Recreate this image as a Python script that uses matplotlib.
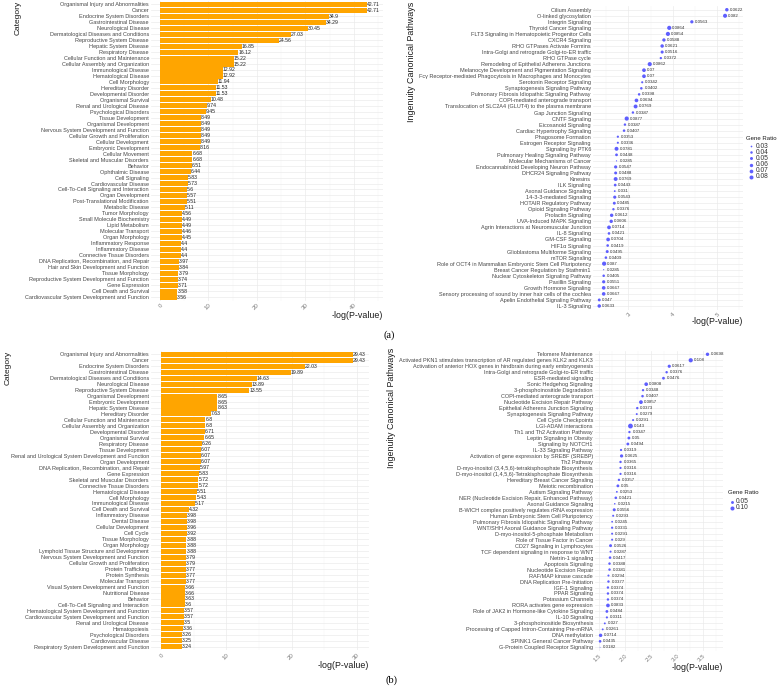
import numpy as np
import matplotlib
matplotlib.use("Agg")
import matplotlib.pyplot as plt

plt.rcParams['font.family'] = ['Liberation Sans', 'DejaVu Sans']

W, H = 777, 686

# ---------------- (a) ----------------
cat_a = [
    "Organismal Injury and Abnormalities", "Cancer", "Endocrine System Disorders",
    "Gastrointestinal Disease", "Neurological Disease", "Dermatological Diseases and Conditions",
    "Reproductive System Disease", "Hepatic System Disease", "Respiratory Disease",
    "Cellular Function and Maintenance", "Cellular Assembly and Organization",
    "Immunological Disease", "Hematological Disease", "Cell Morphology", "Hereditary Disorder",
    "Developmental Disorder", "Organismal Survival", "Renal and Urological Disease",
    "Psychological Disorders", "Tissue Development", "Organismal Development",
    "Nervous System Development and Function", "Cellular Growth and Proliferation",
    "Cellular Development", "Embryonic Development", "Cellular Movement",
    "Skeletal and Muscular Disorders", "Behavior", "Ophthalmic Disease", "Cell Signaling",
    "Cardiovascular Disease", "Cell-To-Cell Signaling and Interaction", "Organ Development",
    "Post-Translational Modification", "Metabolic Disease", "Tumor Morphology",
    "Small Molecule Biochemistry", "Lipid Metabolism", "Molecular Transport",
    "Organ Morphology", "Inflammatory Response", "Inflammatory Disease",
    "Connective Tissue Disorders", "DNA Replication, Recombination, and Repair",
    "Hair and Skin Development and Function", "Tissue Morphology",
    "Reproductive System Development and Function", "Gene Expression",
    "Cell Death and Survival", "Cardiovascular System Development and Function",
]
logp_cat_a = [
    42.71, 42.71, 34.9, 34.29, 30.45, 27.03, 24.56, 16.85, 16.12, 15.22,
    15.22, 12.92, 12.92, 11.94, 11.53, 11.53, 10.48, 9.74, 9.45, 8.49,
    8.49, 8.49, 8.49, 8.49, 8.16, 6.68, 6.68, 6.51, 6.44, 5.83,
    5.73, 5.6, 5.57, 5.51, 5.11, 4.56, 4.49, 4.49, 4.46, 4.45,
    4.4, 4.4, 4.4, 3.97, 3.84, 3.79, 3.74, 3.71, 3.58, 3.56,
]

path_a = [
    "Cilium Assembly", "O-linked glycosylation", "Integrin Signaling",
    "Thyroid Cancer Signaling", "FLT3 Signaling in Hematopoietic Progenitor Cells",
    "CXCR4 Signaling", "RHO GTPases Activate Formins",
    "Intra-Golgi and retrograde Golgi-to-ER traffic", "RHO GTPase cycle",
    "Remodeling of Epithelial Adherens Junctions",
    "Melanocyte Development and Pigmentation Signaling",
    "Fcγ Receptor-mediated Phagocytosis in Macrophages and Monocytes",
    "Serotonin Receptor Signaling", "Synaptogenesis Signaling Pathway",
    "Pulmonary Fibrosis Idiopathic Signaling Pathway", "COPI-mediated anterograde transport",
    "Translocation of SLC2A4 (GLUT4) to the plasma membrane", "Gap Junction Signaling",
    "CNTF Signaling", "Eicosanoid Signaling", "Cardiac Hypertrophy Signaling",
    "Phagosome Formation", "Estrogen Receptor Signaling", "Signaling by PTK6",
    "Pulmonary Healing Signaling Pathway", "Molecular Mechanisms of Cancer",
    "Endocannabinoid Developing Neuron Pathway", "DHCR24 Signaling Pathway", "Kinesins",
    "ILK Signaling", "Axonal Guidance Signaling", "14-3-3-mediated Signaling",
    "HOTAIR Regulatory Pathway", "Opioid Signaling Pathway", "Prolactin Signaling",
    "UVA-Induced MAPK Signaling", "Agrin Interactions at Neuromuscular Junction",
    "IL-8 Signaling", "GM-CSF Signaling", "HIF1α Signaling",
    "Glioblastoma Multiforme Signaling", "mTOR Signaling",
    "Role of OCT4 in Mammalian Embryonic Stem Cell Pluripotency",
    "Breast Cancer Regulation by Stathmin1", "Nuclear Cytoskeleton Signaling Pathway",
    "Paxillin Signaling", "Growth Hormone Signaling",
    "Sensory processing of sound by inner hair cells of the cochlea",
    "Apelin Endothelial Signaling Pathway", "IL-3 Signaling",
]
logp_path_a = [
    5.22, 5.18, 4.43, 3.92, 3.89, 3.80, 3.76, 3.76, 3.73, 3.48,
    3.35, 3.35, 3.31, 3.29, 3.24, 3.18, 3.16, 3.10, 2.96, 2.92,
    2.90, 2.76, 2.76, 2.73, 2.73, 2.73, 2.71, 2.71, 2.71, 2.70,
    2.69, 2.69, 2.68, 2.66, 2.62, 2.61, 2.56, 2.56, 2.54, 2.53,
    2.52, 2.49, 2.45, 2.44, 2.44, 2.44, 2.44, 2.44, 2.34, 2.34,
]
ratio_a = [
    0.0622, 0.082, 0.0563, 0.0864, 0.0854, 0.0588, 0.0621, 0.0516, 0.0372, 0.0862,
    0.07, 0.07, 0.0342, 0.0402, 0.0398, 0.0694, 0.0769, 0.0387, 0.0877, 0.0387,
    0.0407, 0.0353, 0.0336, 0.0781, 0.0448, 0.0285, 0.0547, 0.0488, 0.0769, 0.0443,
    0.031, 0.0543, 0.0485, 0.0376, 0.0612, 0.0606, 0.0714, 0.0421, 0.0704, 0.0419,
    0.0495, 0.0409, 0.087, 0.0285, 0.0405, 0.0551, 0.0667, 0.0667, 0.047, 0.0633,
]
legend_a = [0.03, 0.04, 0.05, 0.06, 0.07, 0.08]

# ---------------- (b) ----------------
cat_b = [
    "Organismal Injury and Abnormalities", "Cancer", "Endocrine System Disorders",
    "Gastrointestinal Disease", "Dermatological Diseases and Conditions",
    "Neurological Disease", "Reproductive System Disease", "Organismal Development",
    "Embryonic Development", "Hepatic System Disease", "Hereditary Disorder",
    "Cellular Function and Maintenance", "Cellular Assembly and Organization",
    "Developmental Disorder", "Organismal Survival", "Respiratory Disease",
    "Tissue Development", "Renal and Urological System Development and Function",
    "Organ Development", "DNA Replication, Recombination, and Repair", "Gene Expression",
    "Skeletal and Muscular Disorders", "Connective Tissue Disorders",
    "Hematological Disease", "Cell Morphology", "Immunological Disease",
    "Cell Death and Survival", "Inflammatory Disease", "Dental Disease",
    "Cellular Development", "Cell Cycle", "Tissue Morphology", "Organ Morphology",
    "Lymphoid Tissue Structure and Development", "Nervous System Development and Function",
    "Cellular Growth and Proliferation", "Protein Trafficking", "Protein Synthesis",
    "Molecular Transport", "Visual System Development and Function", "Nutritional Disease",
    "Behavior", "Cell-To-Cell Signaling and Interaction",
    "Hematological System Development and Function",
    "Cardiovascular System Development and Function", "Renal and Urological Disease",
    "Hematopoiesis", "Psychological Disorders", "Cardiovascular Disease",
    "Respiratory System Development and Function",
]
logp_cat_b = [
    29.43, 29.43, 22.03, 19.89, 14.63, 13.89, 13.55, 8.65, 8.65, 8.63,
    7.63, 6.8, 6.8, 6.71, 6.65, 6.26, 6.07, 6.07, 6.07, 5.97,
    5.83, 5.72, 5.72, 5.51, 5.43, 5.17, 4.32, 3.98, 3.98, 3.96,
    3.92, 3.88, 3.88, 3.88, 3.79, 3.79, 3.77, 3.77, 3.77, 3.66,
    3.66, 3.63, 3.6, 3.57, 3.57, 3.5, 3.36, 3.26, 3.25, 3.24,
]

path_b = [
    "Telomere Maintenance",
    "Activated PKN1 stimulates transcription of AR regulated genes KLK2 and KLK3",
    "Activation of anterior HOX genes in hindbrain during early embryogenesis",
    "Intra-Golgi and retrograde Golgi-to-ER traffic", "ESR-mediated signaling",
    "Sonic Hedgehog Signaling", "3-phosphoinositide Degradation",
    "COPI-mediated anterograde transport", "Nucleotide Excision Repair Pathway",
    "Epithelial Adherens Junction Signaling", "Synaptogenesis Signaling Pathway",
    "Cell Cycle Checkpoints", "LGI-ADAM interactions", "Th1 and Th2 Activation Pathway",
    "Leptin Signaling in Obesity", "Signaling by NOTCH1", "IL-33 Signaling Pathway",
    "Activation of gene expression by SREBF (SREBP)", "Th2 Pathway",
    "D-myo-inositol (3,4,5,6)-tetrakisphosphate Biosynthesis",
    "D-myo-inositol (1,4,5,6)-Tetrakisphosphate Biosynthesis",
    "Hereditary Breast Cancer Signaling", "Meiotic recombination", "Autism Signaling Pathway",
    "NER (Nucleotide Excision Repair, Enhanced Pathway)", "Axonal Guidance Signaling",
    "B-WICH complex positively regulates rRNA expression",
    "Human Embryonic Stem Cell Pluripotency",
    "Pulmonary Fibrosis Idiopathic Signaling Pathway",
    "WNT/SHH Axonal Guidance Signaling Pathway", "D-myo-inositol-5-phosphate Metabolism",
    "Role of Tissue Factor in Cancer", "CD27 Signaling in Lymphocytes",
    "TCF dependent signaling in response to WNT", "Netrin-1 signaling", "Apoptosis Signaling",
    "Nucleotide Excision Repair", "RAF/MAP kinase cascade", "DNA Replication Pre-Initiation",
    "IGF-1 Signaling", "PPAR Signaling", "Potassium Channels", "RORA activates gene expression",
    "Role of JAK2 in Hormone-like Cytokine Signaling", "IL-10 Signaling",
    "3-phosphoinositide Biosynthesis", "Processing of Capped Intron-Containing Pre-mRNA",
    "DNA methylation", "SPINK1 General Cancer Pathway", "G-Protein Coupled Receptor Signaling",
]
logp_path_b = [
    3.58, 3.26, 2.85, 2.80, 2.74, 2.41, 2.35, 2.34, 2.31, 2.24,
    2.23, 2.16, 2.11, 2.09, 2.08, 2.06, 1.93, 1.94, 1.92, 1.92,
    1.92, 1.89, 1.87, 1.85, 1.83, 1.81, 1.80, 1.78, 1.76, 1.76,
    1.76, 1.76, 1.73, 1.73, 1.72, 1.71, 1.71, 1.69, 1.69, 1.68,
    1.68, 1.68, 1.68, 1.66, 1.66, 1.62, 1.58, 1.54, 1.53, 1.53,
]
ratio_b = [
    0.0698, 0.108, 0.0617, 0.0376, 0.0476, 0.0808, 0.0348, 0.0407, 0.0857, 0.0373,
    0.0279, 0.0291, 0.143, 0.0347, 0.05, 0.0494, 0.0319, 0.0625, 0.0365, 0.0316,
    0.0316, 0.0357, 0.05, 0.0253, 0.0421, 0.0215, 0.0556, 0.0293, 0.0245, 0.0331,
    0.0291, 0.029, 0.0526, 0.0287, 0.0417, 0.0388, 0.0381, 0.0294, 0.0377, 0.0374,
    0.0374, 0.0374, 0.0833, 0.0484, 0.0311, 0.027, 0.0261, 0.0714, 0.0435, 0.0182,
]
legend_b = [0.05, 0.10]

GREY = '#474747'
ORANGE = '#FFA500'
DOT = '#4D4DFF'


def box(left, right, top, bottom):
    return [left / W, 1 - bottom / H, (right - left) / W, (bottom - top) / H]


def style(ax, labels, xlim, major, minor):
    n = len(labels)
    ax.set_xlim(*xlim)
    ax.set_ylim(n - 0.4, -0.6)
    ax.set_xticks(major)
    ax.set_xticks(minor, minor=True)
    ax.set_yticks(range(n))
    ax.set_yticklabels(labels, fontsize=3.95, color=GREY)
    ax.grid(True, which='major', color='#EBEBEB', lw=0.5)
    ax.grid(True, which='minor', axis='x', color='#F3F3F3', lw=0.3)
    ax.set_axisbelow(True)
    for s in ax.spines.values():
        s.set_visible(False)
    ax.tick_params(axis='both', which='both', length=0)
    ax.tick_params(axis='y', pad=1.5)
    ax.tick_params(axis='x', pad=1.5, labelsize=4.4, labelcolor='#7A7A7A')
    plt.setp(ax.get_xticklabels(), rotation=45, ha='right', rotation_mode='anchor')


def dot_size(v, vals, dmin, dmax):
    lo, hi = min(vals), max(vals)
    d = dmin + (dmax - dmin) * np.sqrt((np.asarray(v) - lo) / (hi - lo))
    return (d * 0.72) ** 2


fig = plt.figure(figsize=(W / 100, H / 100), dpi=100)

# bar panels
for vals, labels, rect, xlim, major, minor in [
    (logp_cat_a, cat_a, box(151, 383, 0.7, 300.6), (-1.86, 46.0),
     [0, 10, 20, 30, 40], [5, 15, 25, 35, 45]),
    (logp_cat_b, cat_b, box(151, 369, 350.7, 650.3), (-1.53, 31.85),
     [0, 10, 20, 30], [5, 15, 25]),
]:
    ax = fig.add_axes(rect)
    ypos = np.arange(len(labels))
    ax.barh(ypos, vals, height=0.85, color=ORANGE)
    for y, v in zip(ypos, vals):
        ax.text(v, y, f"{v:g}", fontsize=3.7, va='center', ha='left', color='#222222')
    style(ax, labels, xlim, major, minor)

# dot panels
for vals, ratios, labels, rect, xlim, major, minor, dr in [
    (logp_path_a, ratio_a, path_a, box(593, 743, 6.1, 309.6), (2.199, 5.585),
     [3, 4, 5], [2.5, 3.5, 4.5, 5.5], (1.2, 4.2)),
    (logp_path_b, ratio_b, path_b, box(595, 723, 350.7, 650.9), (1.433, 3.876),
     [1.5, 2.0, 2.5, 3.0, 3.5], [1.75, 2.25, 2.75, 3.25, 3.75], (0.9, 4.8)),
]:
    ax = fig.add_axes(rect)
    ypos = np.arange(len(labels))
    ax.scatter(vals, ypos, s=dot_size(ratios, ratios, *dr), color=DOT, alpha=0.9,
               linewidths=0, zorder=3)
    for y, v, r in zip(ypos, vals, ratios):
        ax.annotate(f"{r:g}", (v, y), xytext=(2.2, 0), textcoords='offset points',
                    fontsize=3.2, va='center', ha='left', color='#333333')
    style(ax, labels, xlim, major, minor)

# overlay in pixel coordinates for titles and legends
ov = fig.add_axes([0, 0, 1, 1])
ov.set_xlim(0, W)
ov.set_ylim(H, 0)
ov.axis('off')

title_kw = dict(fontsize=6.4, color='#1A1A1A')
ov.text(18, 18, "Category", rotation=90, ha='center', va='center', fontsize=6.0, color='#1A1A1A')
ov.text(412, 62, "Ingenuity Canonical Pathways", rotation=90, ha='center', va='center', **title_kw)
ov.text(383, 315, "-log(P-value)", ha='right', va='center', **title_kw)
ov.text(743, 322, "-log(P-value)", ha='right', va='center', **title_kw)
ov.text(8, 368, "Category", rotation=90, ha='center', va='center', fontsize=6.0, color='#1A1A1A')
ov.text(391, 408, "Ingenuity Canonical Pathways", rotation=90, ha='center', va='center', **title_kw)
ov.text(369, 665, "-log(P-value)", ha='right', va='center', **title_kw)
ov.text(723, 667, "-log(P-value)", ha='right', va='center', **title_kw)

ov.text(383, 335, "(a)", ha='left', va='center', fontsize=7.5, family='Liberation Serif')
ov.text(385, 680, "(b)", ha='left', va='center', fontsize=7.5, family='Liberation Serif')

# legends
ov.text(746, 138, "Gene Ratio", ha='left', va='center', fontsize=4.3, color='#1A1A1A')
for k, g in enumerate(legend_a):
    yy = 146 + k * 6.2
    ov.scatter([751], [yy], s=dot_size(g, ratio_a, 1.2, 4.2), color=DOT, alpha=0.9, linewidths=0)
    ov.text(755.5, yy, f"{g:.2f}", ha='left', va='center', fontsize=4.8, color='#333333')

ov.text(728, 493, "Gene Ratio", ha='left', va='center', fontsize=4.3, color='#1A1A1A')
for k, g in enumerate(legend_b):
    yy = 501.7 + k * 6.2
    ov.scatter([732], [yy], s=dot_size(g, ratio_b, 0.9, 4.8), color=DOT, alpha=0.9, linewidths=0)
    ov.text(736, yy, f"{g:.2f}", ha='left', va='center', fontsize=4.8, color='#333333')

fig.savefig("out.png", dpi=100)
